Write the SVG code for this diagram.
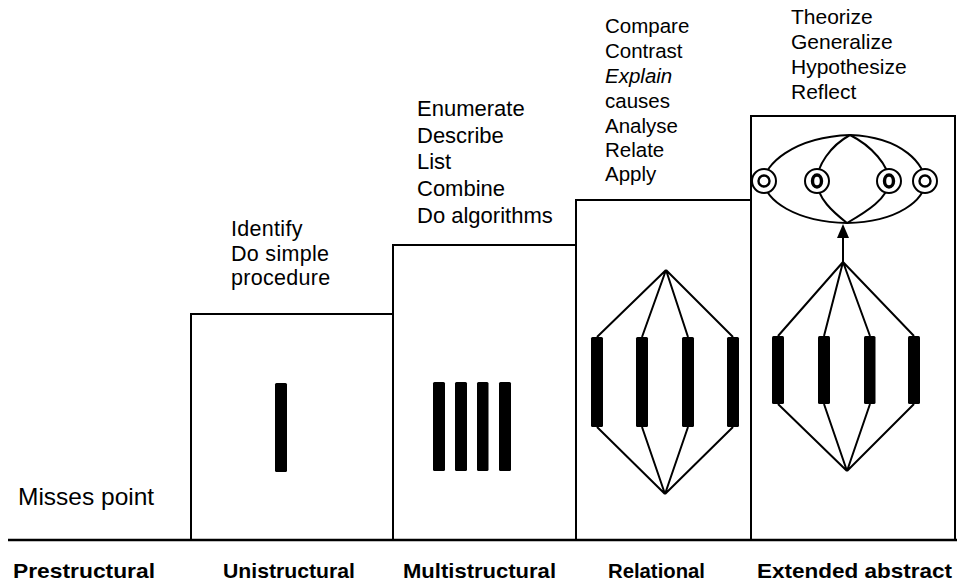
<svg xmlns="http://www.w3.org/2000/svg" width="957" height="584" viewBox="0 0 957 584">
<style>
.ln{stroke:#000;stroke-width:2;fill:none;stroke-linecap:square}
.base{stroke:#000;stroke-width:2.6;fill:none}
.bar{fill:#000}
.t{font-family:"Liberation Sans",Arial,sans-serif;fill:#000}
.lab{font-family:"Liberation Sans",Arial,sans-serif;font-weight:bold;font-size:21px;fill:#000}
.ring{fill:#fff;stroke:#000;stroke-width:2}
.c{stroke:#000;stroke-width:2;fill:none}
</style>
<rect width="957" height="584" fill="#fff"/>
<g id="prestructural">
<text class="t" x="18" y="505" font-size="24.5">Misses point</text>
<text class="lab" x="13" y="578" textLength="142" lengthAdjust="spacingAndGlyphs">Prestructural</text>
</g>
<g id="unistructural">
<path class="ln" d="M191,540 V314 H393"/>
<rect class="bar" x="275" y="383" width="12" height="89" rx="1.5"/>
<text class="t" font-size="21.5" letter-spacing="0.3" x="231" y="236">Identify</text>
<text class="t" font-size="21.5" letter-spacing="0.3" x="231" y="261">Do simple</text>
<text class="t" font-size="21.5" letter-spacing="0.3" x="231" y="285">procedure</text>
<text class="lab" x="223" y="578" textLength="132" lengthAdjust="spacingAndGlyphs">Unistructural</text>
</g>
<g id="multistructural">
<path class="ln" d="M393,540 V245 H576"/>
<rect class="bar" x="433" y="382" width="12" height="89" rx="1.5"/>
<rect class="bar" x="455" y="382" width="12" height="89" rx="1.5"/>
<rect class="bar" x="477" y="382" width="11.5" height="89" rx="1.5"/>
<rect class="bar" x="499" y="382" width="12" height="89" rx="1.5"/>
<text class="t" font-size="22" x="417" y="116">Enumerate</text>
<text class="t" font-size="22" x="417" y="143">Describe</text>
<text class="t" font-size="22" x="417" y="169">List</text>
<text class="t" font-size="22" x="417" y="196">Combine</text>
<text class="t" font-size="22" x="417" y="223">Do algorithms</text>
<text class="lab" x="403" y="578" textLength="153" lengthAdjust="spacingAndGlyphs">Multistructural</text>
</g>
<g id="relational">
<path class="ln" d="M576,540 V200 H751"/>
<rect class="bar" x="591" y="337" width="12" height="90" rx="1.5"/>
<rect class="bar" x="636" y="337" width="12" height="90" rx="1.5"/>
<rect class="bar" x="682" y="337" width="12" height="90" rx="1.5"/>
<rect class="bar" x="727" y="337" width="12" height="90" rx="1.5"/>
<text class="t" font-size="20.5" x="605" y="33">Compare</text>
<text class="t" font-size="20.5" x="605" y="58">Contrast</text>
<text class="t" font-size="20.5" x="605" y="83" font-style="italic">Explain</text>
<text class="t" font-size="20.5" x="605" y="108">causes</text>
<text class="t" font-size="20.5" x="605" y="133">Analyse</text>
<text class="t" font-size="20.5" x="605" y="157">Relate</text>
<text class="t" font-size="20.5" x="605" y="181">Apply</text>
<text class="lab" x="608" y="578" textLength="97" lengthAdjust="spacingAndGlyphs">Relational</text>
</g>
<g id="extended-abstract">
<path class="ln" d="M751,540 V116 H955 V540"/>
<rect class="bar" x="772" y="336" width="12" height="68" rx="1.5"/>
<rect class="bar" x="818" y="336" width="12" height="68" rx="1.5"/>
<rect class="bar" x="864" y="336" width="11.5" height="68" rx="1.5"/>
<rect class="bar" x="908" y="336" width="12" height="68" rx="1.5"/>
<path class="c" d="M850,135 C792,137 764,166 764,181 C764,200 796,222 847,223"/>
<path class="c" d="M850,135 C904,137 925,166 925,181 C925,200 898,222 847,223"/>
<path class="c" d="M850,135 C830,146 817,166 817,181 C817,198 833,212 847,223"/>
<path class="c" d="M850,135 C872,146 889,166 889,181 C889,198 866,212 847,223"/>
<circle class="ring" cx="764" cy="181" r="12"/>
<circle cx="764" cy="181" r="5.5" fill="none" stroke="#000" stroke-width="2.4"/>
<circle class="ring" cx="817" cy="181" r="12"/>
<ellipse cx="817" cy="181" rx="4.5" ry="6" fill="none" stroke="#000" stroke-width="3.4"/>
<circle class="ring" cx="889" cy="181" r="12"/>
<ellipse cx="889" cy="181" rx="4.5" ry="6" fill="none" stroke="#000" stroke-width="3.4"/>
<circle class="ring" cx="925" cy="181" r="12"/>
<circle cx="925" cy="181" r="5.5" fill="none" stroke="#000" stroke-width="2.4"/>
<text class="t" font-size="21" x="791" y="24">Theorize</text>
<text class="t" font-size="21" x="791" y="49">Generalize</text>
<text class="t" font-size="21" x="791" y="74">Hypothesize</text>
<text class="t" font-size="21" x="791" y="99">Reflect</text>
<text class="lab" x="757" y="578" textLength="195" lengthAdjust="spacingAndGlyphs">Extended abstract</text>
</g>
<g id="connectors">
<path class="base" d="M8,540 H957"/>
<g class="c">
<path d="M666,270 L597,337 M666,270 L642,337 M666,270 L688,337 M666,270 L733,337"/>
<path d="M597,427 L665,494 M642,427 L665,494 M688,427 L665,494 M733,427 L665,494"/>
<path d="M843,262 L778,336 M843,262 L824,336 M843,262 L870,336 M843,262 L914,336"/>
<path d="M778,404 L847,471 M824,404 L847,471 M870,404 L847,471 M914,404 L847,471"/>
<path d="M843,262 V237"/>
</g>
<polygon points="843,224 837,238 849,238" fill="#000"/>
</g>
</svg>
